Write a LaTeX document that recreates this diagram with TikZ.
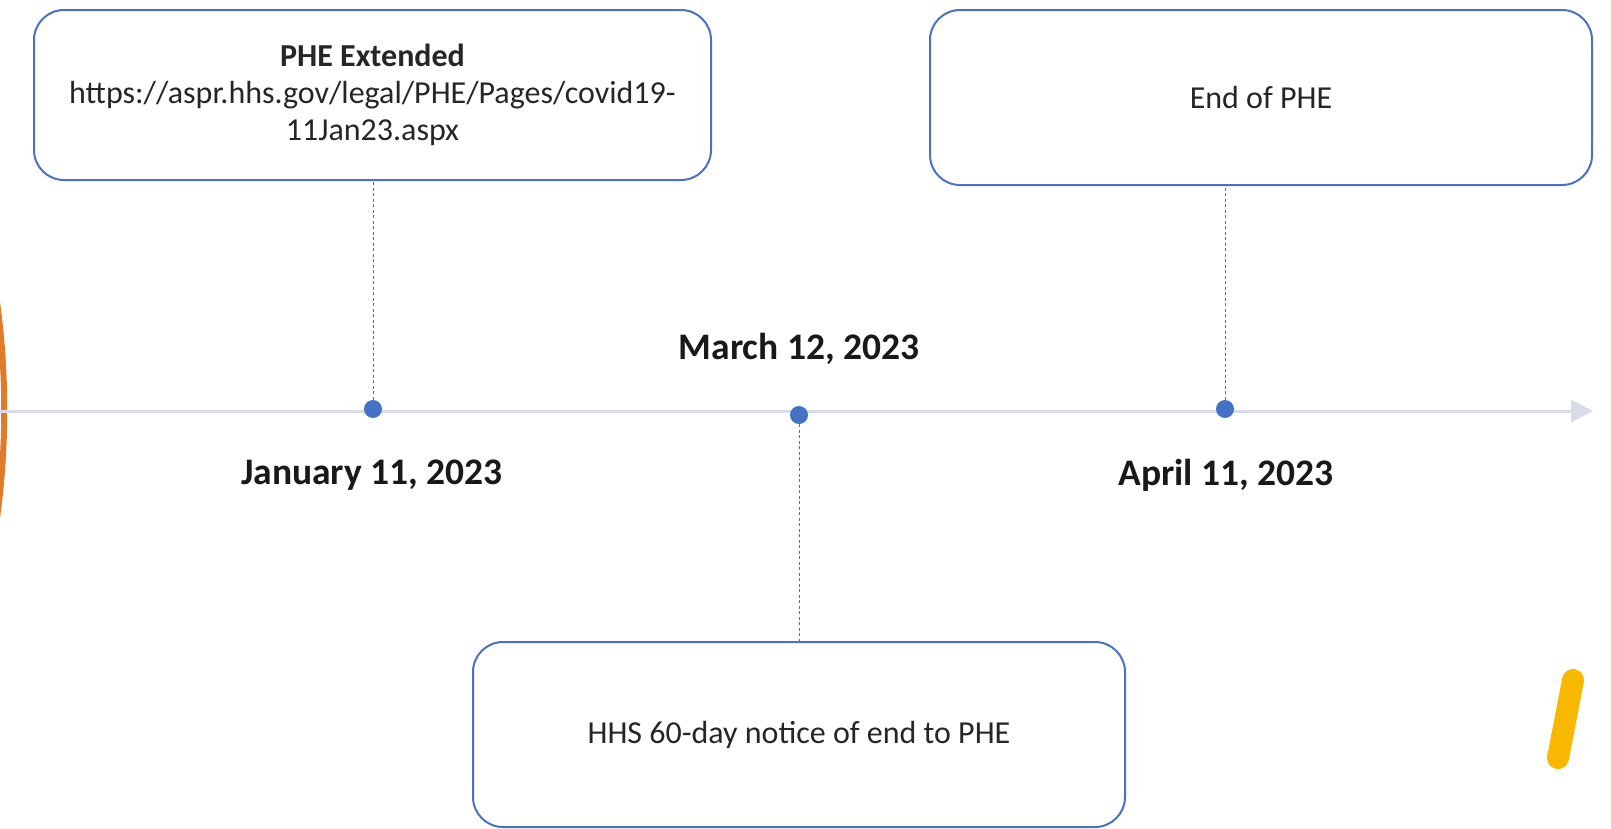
\documentclass[tikz,border=0pt]{standalone}
\usepackage{fontspec}
\setmainfont{Carlito}
\usetikzlibrary{arrows.meta}
\definecolor{boxblue}{HTML}{4A72C0}
\definecolor{dotblue}{HTML}{4472C4}
\definecolor{tlgray}{HTML}{D6DCE8}
\definecolor{arcorange}{HTML}{E07B2A}
\definecolor{ystroke}{HTML}{F8B800}
\tikzset{
  eventbox/.style={draw=boxblue, line width=2pt, rounded corners=30pt, fill=white, align=center, inner sep=0pt, font=\fontsize{32}{37}\selectfont, text=black!85},
  evdot/.style={circle, fill=dotblue, minimum size=18pt, inner sep=0pt},
  datelabel/.style={font=\fontsize{37.5}{44}\selectfont\bfseries, text=black!90},
  leader/.style={draw=dotblue, line width=1pt, dash pattern=on 3pt off 2.5pt},
}
\begin{document}
\begin{tikzpicture}[x=1pt,y=-1pt]
\useasboundingbox (0,0) rectangle (1611,828);
% decorations
\draw[arcorange, line width=6pt] (-4,295) .. controls (7,370) and (7,450) .. (-4,525);
\draw[ystroke, line width=22pt, line cap=round] (1573,680) -- (1558,758);
% timeline
\coordinate (tl0) at (0,411);
\coordinate (tl1) at (1593,411);
\draw[tlgray, line width=3pt, -{Triangle[length=22pt,width=22pt]}] (tl0) -- (tl1);
% boxes
\node[eventbox, minimum width=677pt, minimum height=170pt] (b1) at (372.5,95)
  {\textbf{PHE Extended}\\https://aspr.hhs.gov/legal/PHE/Pages/covid19-\\11Jan23.aspx};
\node[eventbox, minimum width=662pt, minimum height=175pt] (b2) at (1261,97.5) {End of PHE};
\node[eventbox, minimum width=652pt, minimum height=185pt] (b3) at (799,734.5) {HHS 60-day notice of end to PHE};
% dots
\node[evdot] (d1) at (373,409) {};
\node[evdot] (d2) at (799,415) {};
\node[evdot] (d3) at (1225,409) {};
% leaders
\draw[leader] (d1) -- (b1.south -| d1);
\draw[leader] (d3) -- (b2.south -| d3);
\draw[leader] (d2) -- (b3.north -| d2);
% date labels
\node[datelabel] (l1) at (372,475) {January 11, 2023};
\node[datelabel] (l2) at (799,349) {March 12, 2023};
\node[datelabel] (l3) at (1226,475) {April 11, 2023};
\end{tikzpicture}
\end{document}
